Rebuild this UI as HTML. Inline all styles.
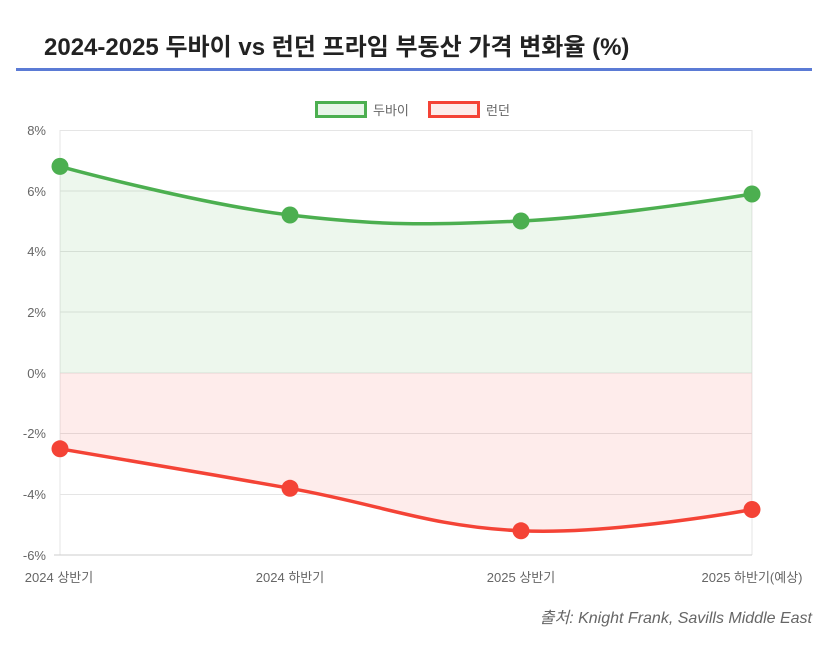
<!DOCTYPE html>
<html><head><meta charset="utf-8"><style>
body{margin:0;width:836px;height:650px;background:#fff;font-family:"Liberation Sans","Noto Sans CJK KR",sans-serif;overflow:hidden}
</style></head><body>
<svg width="836" height="650" xmlns="http://www.w3.org/2000/svg" font-family="Liberation Sans, Noto Sans CJK KR, sans-serif">
<text x="44" y="55" font-size="24" font-weight="bold" fill="#222">2024-2025 두바이 vs 런던 프라임 부동산 가격 변화율 (%)</text>
<rect x="16" y="68" width="796" height="3" fill="#5b7bd5"/>
<!-- legend -->
<rect x="316.5" y="102.5" width="49" height="14" fill="#e8f5e9" stroke="#4caf50" stroke-width="3"/>
<text x="373" y="115" font-size="13" fill="#666">두바이</text>
<rect x="429.5" y="102.5" width="49" height="14" fill="#fdecea" stroke="#f44336" stroke-width="3"/>
<text x="486" y="115" font-size="13" fill="#666">런던</text>
<!-- grid -->
<g stroke="#e5e5e5" stroke-width="1">
<line x1="60" x2="752" y1="130.5" y2="130.5"/>
<line x1="60" x2="752" y1="191" y2="191"/>
<line x1="60" x2="752" y1="251.5" y2="251.5"/>
<line x1="60" x2="752" y1="312" y2="312"/>
<line x1="60" x2="752" y1="373" y2="373"/>
<line x1="60" x2="752" y1="433.5" y2="433.5"/>
<line x1="60" x2="752" y1="494.5" y2="494.5"/>
<line x1="60" x2="60" y1="130" y2="555"/>
<line x1="752" x2="752" y1="130" y2="555"/>
</g>
<line x1="54" x2="752" y1="555" y2="555" stroke="#ccc"/>
<g font-size="13" fill="#666" text-anchor="end">
<text x="46" y="135">8%</text><text x="46" y="196">6%</text><text x="46" y="256">4%</text>
<text x="46" y="317">2%</text><text x="46" y="378">0%</text><text x="46" y="438">-2%</text>
<text x="46" y="499">-4%</text><text x="46" y="560">-6%</text>
</g>
<g font-size="13" fill="#666" text-anchor="middle">
<text x="59" y="582">2024 상반기</text><text x="290" y="582">2024 하반기</text>
<text x="521" y="582">2025 상반기</text><text x="752" y="582">2025 하반기(예상)</text>
</g>
<!-- fills -->
<path d="M60,166.4 C60,166.4 198,204.1 290,215 C382,225.9 429,225.2 521,221 C613,216.8 752,194 752,194 L752,373 L60,373 Z" fill="rgba(76,175,80,0.1)"/>
<path d="M60,448.8 C60,448.8 198,471.9 290,488.3 C382,504.7 429,526.6 521,530.8 C613,535 752,509.5 752,509.5 L752,373 L60,373 Z" fill="rgba(244,67,54,0.1)"/>
<!-- lines -->
<path d="M60,166.4 C60,166.4 198,204.1 290,215 C382,225.9 429,225.2 521,221 C613,216.8 752,194 752,194" fill="none" stroke="#4caf50" stroke-width="3.5"/>
<path d="M60,448.8 C60,448.8 198,471.9 290,488.3 C382,504.7 429,526.6 521,530.8 C613,535 752,509.5 752,509.5" fill="none" stroke="#f44336" stroke-width="3.5"/>
<g fill="#4caf50"><circle cx="60" cy="166.4" r="8.5"/><circle cx="290" cy="215" r="8.5"/><circle cx="521" cy="221" r="8.5"/><circle cx="752" cy="194" r="8.5"/></g>
<g fill="#f44336"><circle cx="60" cy="448.8" r="8.5"/><circle cx="290" cy="488.3" r="8.5"/><circle cx="521" cy="530.8" r="8.5"/><circle cx="752" cy="509.5" r="8.5"/></g>
<text x="812" y="623" font-size="16" font-style="italic" fill="#666" text-anchor="end">출처: Knight Frank, Savills Middle East</text>
</svg>
</body></html>
